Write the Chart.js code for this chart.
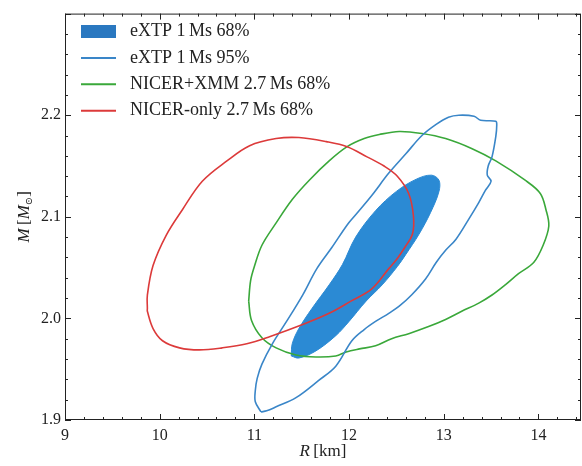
<!DOCTYPE html>
<html>
<head>
<meta charset="utf-8">
<script src="https://cdn.jsdelivr.net/npm/chart.js@4.4.1/dist/chart.umd.min.js"></script>
<style>
html, body { margin: 0; padding: 0; background: #fff; }
#wrap { width: 582px; height: 466px; }
</style>
</head>
<body>
<div id="wrap"><canvas id="mr" width="582" height="466"></canvas></div>
<script>
// contours: R in km, M in solar masses
const extp68R = [11.39, 11.40, 11.47, 11.61, 11.79, 11.93, 12.07, 12.28, 12.50, 12.71, 12.87, 12.95, 12.95, 12.86, 12.74, 12.60, 12.51, 12.35, 12.18, 12.00, 11.86, 11.65, 11.47];
const extp68M = [1.963, 1.975, 1.990, 2.010, 2.033, 2.053, 2.080, 2.106, 2.125, 2.137, 2.141, 2.136, 2.125, 2.104, 2.083, 2.063, 2.051, 2.033, 2.017, 1.997, 1.983, 1.968, 1.961];

const extp95R = [11.07, 11.01, 11.01, 11.03, 11.08, 11.19, 11.34, 11.51, 11.66, 11.82, 11.98, 12.07, 12.24, 12.42, 12.60, 12.77, 12.92, 13.05, 13.16, 13.32, 13.39, 13.55, 13.56, 13.55, 13.51, 13.47, 13.46, 13.50, 13.44, 13.37, 13.26, 13.13, 13.02, 12.92, 12.81, 12.66, 12.53, 12.42, 12.28, 12.16, 12.03, 11.86, 11.68, 11.44, 11.23, 11.13];
const extp95M = [1.908, 1.918, 1.929, 1.941, 1.955, 1.975, 1.997, 2.023, 2.049, 2.070, 2.092, 2.102, 2.121, 2.143, 2.162, 2.180, 2.191, 2.198, 2.200, 2.199, 2.195, 2.194, 2.190, 2.179, 2.159, 2.150, 2.141, 2.135, 2.126, 2.114, 2.097, 2.078, 2.067, 2.055, 2.039, 2.023, 2.012, 2.005, 1.997, 1.989, 1.978, 1.953, 1.939, 1.922, 1.913, 1.909];

const xmmR = [10.94, 10.96, 11.00, 11.08, 11.23, 11.40, 11.58, 11.79, 11.98, 12.16, 12.32, 12.53, 12.77, 13.02, 13.30, 13.55, 13.86, 14.02, 14.08, 14.11, 14.05, 13.95, 13.79, 13.65, 13.51, 13.37, 13.19, 13.02, 12.84, 12.63, 12.45, 12.28, 12.11, 11.97, 11.86, 11.65, 11.44, 11.23, 11.08, 10.97];
const xmmM = [2.017, 2.037, 2.051, 2.072, 2.094, 2.117, 2.136, 2.155, 2.169, 2.177, 2.181, 2.184, 2.182, 2.177, 2.167, 2.155, 2.136, 2.123, 2.107, 2.091, 2.072, 2.055, 2.044, 2.033, 2.023, 2.015, 2.007, 1.999, 1.992, 1.985, 1.980, 1.973, 1.970, 1.967, 1.963, 1.962, 1.964, 1.971, 1.981, 1.998];

const nicerR = [9.87, 9.87, 9.93, 10.07, 10.24, 10.45, 10.71, 10.95, 11.23, 11.47, 11.76, 11.98, 12.19, 12.37, 12.51, 12.63, 12.68, 12.67, 12.59, 12.51, 12.42, 12.24, 12.02, 11.79, 11.51, 11.16, 10.92, 10.66, 10.42, 10.21, 10.03, 9.93, 9.87];
const nicerM = [2.010, 2.023, 2.052, 2.082, 2.107, 2.135, 2.155, 2.170, 2.177, 2.178, 2.174, 2.169, 2.159, 2.150, 2.140, 2.123, 2.101, 2.083, 2.070, 2.059, 2.049, 2.029, 2.017, 2.005, 1.994, 1.982, 1.975, 1.971, 1.969, 1.971, 1.978, 1.990, 2.007];

const labels = ['eXTP 1\u2009Ms 68%', 'eXTP 1\u2009Ms 95%', 'NICER+XMM 2.7\u2009Ms 68%', 'NICER-only 2.7\u2009Ms 68%'];
const xTickLabels = [9, 10, 11, 12, 13, 14];
const yTickLabels = [1.9, 2.0, 2.1, 2.2];

const serif = "'Liberation Serif', 'DejaVu Serif', serif";

// closed loop -> repeat first point
function loop(rs, ms) {
    const out = rs.map((r, i) => ({ x: r, y: ms[i] }));
    out.push({ x: rs[0], y: ms[0] });
    return out;
}

const frameTicks = {
    id: 'frameTicks',
    afterDraw(chart) {
        const { ctx, chartArea: a, scales: { x, y } } = chart;
        ctx.save();
        ctx.strokeStyle = '#222';
        ctx.lineWidth = 1;
        ctx.strokeRect(a.left + 0.5, a.top + 0.5, a.right - a.left - 1, a.bottom - a.top - 1);
        ctx.beginPath();
        // x ticks, inward on bottom and top
        for (let v = 9; v <= 14.41; v += 0.2) {
            const px = Math.round(x.getPixelForValue(v)) + 0.5;
            const len = xTickLabels.some(t => Math.abs(t - v) < 1e-6) ? 6 : 3;
            ctx.moveTo(px, a.bottom); ctx.lineTo(px, a.bottom - len);
            ctx.moveTo(px, a.top); ctx.lineTo(px, a.top + len);
        }
        // y ticks, inward on left and right
        for (let v = 1.9; v <= 2.301; v += 0.02) {
            const py = Math.round(y.getPixelForValue(v)) + 0.5;
            const len = Math.abs(Math.round(v * 10) - v * 10) < 1e-6 ? 6 : 3;
            ctx.moveTo(a.left, py); ctx.lineTo(a.left + len, py);
            ctx.moveTo(a.right, py); ctx.lineTo(a.right - len, py);
        }
        ctx.stroke();
        ctx.restore();
    }
};

function drawParts(ctx, parts, cx, cy) {
    let w = 0;
    parts.forEach(p => { ctx.font = p[1]; w += ctx.measureText(p[0]).width; });
    let px = cx - w / 2;
    parts.forEach(p => {
        ctx.font = p[1];
        ctx.fillText(p[0], px, cy + (p[2] || 0));
        px += ctx.measureText(p[0]).width;
    });
}

const axisTitles = {
    id: 'axisTitles',
    afterDraw(chart) {
        const { ctx, chartArea: a } = chart;
        const it = 'italic 17px ' + serif, up = '17px ' + serif;
        ctx.save();
        ctx.fillStyle = '#222';
        ctx.textBaseline = 'middle';
        drawParts(ctx, [['R', it], ['\u2009[km]', up]], (a.left + a.right) / 2, 452);
        ctx.translate(25, (a.top + a.bottom) / 2);
        ctx.rotate(-Math.PI / 2);
        drawParts(ctx, [['M', it], ['\u2009[', up], ['M', it], ['\u2299', '10px ' + serif, 4], [']', up]], 0, 0);
        ctx.restore();
    }
};

const boxLegend = {
    id: 'boxLegend',
    afterDraw(chart) {
        const ctx = chart.ctx;
        ctx.save();
        ctx.font = '18px ' + serif;
        ctx.textBaseline = 'middle';
        chart.data.datasets.forEach((ds, i) => {
            const cy = 31.5 + i * 26.4;
            if (ds.legendStyle === 'rect') {
                ctx.fillStyle = ds.legendColor;
                ctx.fillRect(81, cy - 6.5, 35, 13);
            } else {
                ctx.strokeStyle = ds.borderColor;
                ctx.lineWidth = 2;
                ctx.beginPath();
                ctx.moveTo(81, cy); ctx.lineTo(116, cy);
                ctx.stroke();
            }
            ctx.fillStyle = '#222';
            ctx.fillText(ds.label, 130, cy);
        });
        ctx.restore();
    }
};

new Chart(document.getElementById('mr'), {
    type: 'scatter',
    data: {
        datasets: [{
            label: labels[0],
            data: loop(extp68R, extp68M),
            borderColor: '#2b8ad4',
            backgroundColor: '#2b8ad4',
            borderWidth: 1,
            fill: 'shape',
            legendStyle: 'rect',
            legendColor: '#2a78c0',
            order: 5
        }, {
            label: labels[1],
            data: loop(extp95R, extp95M),
            borderColor: '#3a86c8',
            borderWidth: 1.6,
            fill: false,
            legendStyle: 'line',
            order: 1
        }, {
            label: labels[2],
            data: loop(xmmR, xmmM),
            borderColor: '#3aa83a',
            borderWidth: 1.6,
            fill: false,
            legendStyle: 'line',
            order: 2
        }, {
            label: labels[3],
            data: loop(nicerR, nicerM),
            borderColor: '#dc3a3a',
            borderWidth: 1.6,
            fill: false,
            legendStyle: 'line',
            order: 0
        }]
    },
    options: {
        responsive: false,
        animation: false,
        devicePixelRatio: 1,
        events: [],
        showLine: true,
        elements: {
            point: { radius: 0 },
            line: { tension: 0.35 }
        },
        layout: { padding: { left: 0, top: 8, right: 1, bottom: 0 } },
        scales: {
            x: {
                type: 'linear',
                min: 9,
                max: 14.45,
                grid: { display: false, drawTicks: false },
                border: { display: false },
                afterFit: s => { s.height = 46; },
                ticks: {
                    stepSize: 1,
                    includeBounds: false,
                    padding: 6,
                    color: '#222',
                    font: { family: serif, size: 16 },
                    callback: v => xTickLabels.includes(v) ? String(v) : ''
                }
            },
            y: {
                min: 1.9,
                max: 2.3,
                grid: { display: false, drawTicks: false },
                border: { display: false },
                afterFit: s => { s.width = 65; },
                ticks: {
                    stepSize: 0.1,
                    padding: 4,
                    color: '#222',
                    font: { family: serif, size: 16 },
                    callback: v => yTickLabels.some(t => Math.abs(t - v) < 1e-6) ? v.toFixed(1) : ''
                }
            }
        },
        plugins: {
            legend: { display: false },
            tooltip: { enabled: false }
        }
    },
    plugins: [frameTicks, axisTitles, boxLegend]
});
</script>
</body>
</html>
